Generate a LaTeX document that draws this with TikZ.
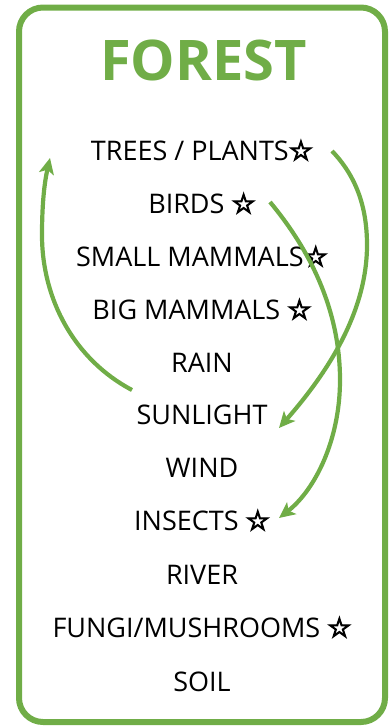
\documentclass[tikz,border=0pt]{standalone}
\usepackage{fontspec}
\setmainfont{Open Sans}
\newfontfamily\starfont{DejaVu Sans}
\usetikzlibrary{arrows.meta}
\definecolor{fgreen}{HTML}{70AD47}
\newcommand{\st}{{\starfont\fontsize{27}{30}\selectfont\special{pdf:literal 2 Tr 1.3 w}☆\special{pdf:literal 0 Tr}}}
\tikzset{
  lbl/.style={anchor=base, inner sep=0pt, font=\fontsize{27}{30}\selectfont, text=black},
  conn/.style={draw=fgreen, line width=4.2pt, -{Stealth[length=16pt,width=15pt,inset=4pt]}},
}
\begin{document}
\begin{tikzpicture}[x=1pt,y=-1pt]
\useasboundingbox (0,0) rectangle (390,728);
\draw[fgreen, line width=6pt, rounded corners=24pt] (19,7.5) rectangle (385,722);
\node[anchor=base, inner sep=0pt, font=\fontsize{56}{60}\selectfont\bfseries, text=fgreen] (title) at (203.5,80) {FOREST};
\node[lbl] (trees) at (202,160) {TREES / PLANTS\st};
\node[lbl] (birds) at (202,213) {BIRDS \st};
\node[lbl] (small) at (202,266) {SMALL MAMMALS\st};
\node[lbl] (big) at (202,319) {BIG MAMMALS \st};
\node[lbl] (rain) at (202,372) {RAIN};
\node[lbl] (sun) at (202,424) {SUNLIGHT};
\node[lbl] (wind) at (202,477) {WIND};
\node[lbl] (insects) at (202,530) {INSECTS \st};
\node[lbl] (river) at (202,584) {RIVER};
\node[lbl] (fungi) at (202,637) {FUNGI/MUSHROOMS \st};
\node[lbl] (soil) at (202,691) {SOIL};
\coordinate (a1s) at (132,390);
\coordinate (a1e) at (50,158);
\coordinate (a2s) at (332,151);
\coordinate (a2e) at (279,428);
\coordinate (a3s) at (270,202);
\coordinate (a3e) at (279,518);
\draw[conn] (a1s) .. controls (75,360) and (42,300) .. (42,235) .. controls (42,200) and (45,180) .. (a1e);
\draw[conn] (a2s) .. controls (355,175) and (367,205) .. (367,245) .. controls (367,310) and (330,370) .. (a2e);
\draw[conn] (a3s) .. controls (310,250) and (340,310) .. (340,380) .. controls (340,440) and (315,490) .. (a3e);
\end{tikzpicture}
\end{document}
